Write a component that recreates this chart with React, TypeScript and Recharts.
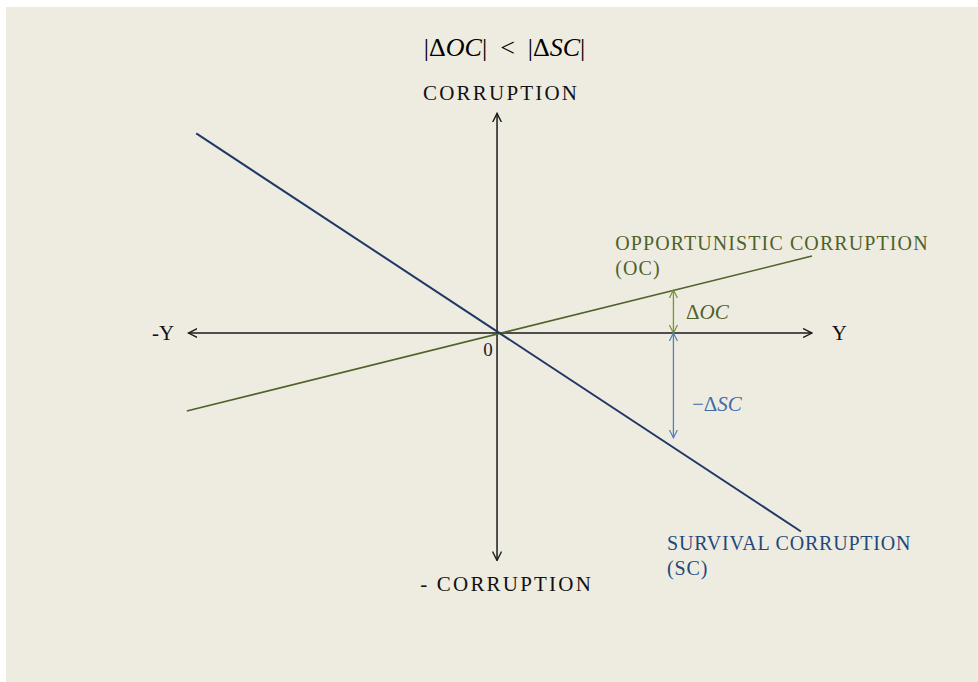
import { LineChart, Line, XAxis, YAxis, ReferenceDot } from "recharts";

// axis arrows and the two corruption lines, in chart units (origin = 0,0)
const horizontalAxis = [
  { x: -9.8, y: 0 },
  { x: 10, y: 0 },
];
const verticalAxis = [
  { x: 0, y: -10.2 },
  { x: 0, y: 9.85 },
];
const opportunistic = [
  { x: -9.85, y: -3.5 },
  { x: 10, y: 3.45 },
];
const survival = [
  { x: -9.55, y: 8.95 },
  { x: 9.65, y: -8.9 },
];
const deltaOC = [
  { x: 5.6, y: 0 },
  { x: 5.6, y: 1.93 },
];
const deltaSC = [
  { x: 5.6, y: 0 },
  { x: 5.6, y: -4.7 },
];

const ocLabel = ["OPPORTUNISTIC CORRUPTION", "(OC)"];
const scLabel = ["SURVIVAL CORRUPTION", "(SC)"];

const SERIF = "'Liberation Serif', 'Times New Roman', serif";
const BG = "#EEECE1";

// label renderer: centre of the ReferenceDot viewBox -> render callback
const at =
  (draw: (x: number, y: number) => any) =>
  (props: any) => {
    const vb = props.viewBox || {};
    const x = (vb.x ?? 0) + (vb.width ?? 0) / 2;
    const y = (vb.y ?? 0) + (vb.height ?? 0) / 2;
    return draw(x, y);
  };

const dot = {
  r: 0,
  fill: "none",
  stroke: "none",
  ifOverflow: "visible" as const,
};

export default function App() {
  return (
    <div
      style={{
        position: "absolute",
        left: 6,
        top: 7,
        width: 972,
        height: 675,
        background: BG,
      }}
    >
      <LineChart
        width={972}
        height={675}
        margin={{ top: 0, right: 0, bottom: 0, left: 0 }}
      >
        <defs>
          <marker
            id="arrBlack"
            viewBox="0 0 10 10"
            refX="9"
            refY="5"
            markerWidth="10"
            markerHeight="10"
            markerUnits="userSpaceOnUse"
            orient="auto-start-reverse"
          >
            <path d="M0,0.5 L9,5 L0,9.5" fill="none" stroke="#1a1a1a" strokeWidth="1.4" />
          </marker>
          <marker
            id="arrGreen"
            viewBox="0 0 10 10"
            refX="9"
            refY="5"
            markerWidth="9"
            markerHeight="11"
            markerUnits="userSpaceOnUse"
            orient="auto-start-reverse"
          >
            <path d="M0,0.5 L9,5 L0,9.5" fill="none" stroke="#77933C" strokeWidth="1.3" />
          </marker>
          <marker
            id="arrBlue"
            viewBox="0 0 10 10"
            refX="9"
            refY="5"
            markerWidth="9"
            markerHeight="11"
            markerUnits="userSpaceOnUse"
            orient="auto-start-reverse"
          >
            <path d="M0,0.5 L9,5 L0,9.5" fill="none" stroke="#4F81BD" strokeWidth="1.3" />
          </marker>
        </defs>

        <XAxis
          type="number"
          dataKey="x"
          hide
          domain={[-15.59, 15.27]}
          allowDataOverflow
        />
        <YAxis
          type="number"
          dataKey="y"
          hide
          domain={[-15.65, 14.62]}
          allowDataOverflow
        />

        <Line
          data={horizontalAxis}
          dataKey="y"
          type="linear"
          stroke="#1a1a1a"
          strokeWidth={1.5}
          dot={false}
          activeDot={false}
          markerStart="url(#arrBlack)"
          markerEnd="url(#arrBlack)"
          isAnimationActive={false}
        />
        <Line
          data={verticalAxis}
          dataKey="y"
          type="linear"
          stroke="#1a1a1a"
          strokeWidth={1.5}
          dot={false}
          activeDot={false}
          markerStart="url(#arrBlack)"
          markerEnd="url(#arrBlack)"
          isAnimationActive={false}
        />
        <Line
          data={opportunistic}
          dataKey="y"
          type="linear"
          stroke="#4F6228"
          strokeWidth={1.6}
          dot={false}
          activeDot={false}
          isAnimationActive={false}
        />
        <Line
          data={survival}
          dataKey="y"
          type="linear"
          stroke="#1F3864"
          strokeWidth={2}
          dot={false}
          activeDot={false}
          isAnimationActive={false}
        />
        <Line
          data={deltaOC}
          dataKey="y"
          type="linear"
          stroke="#77933C"
          strokeWidth={1.3}
          dot={false}
          activeDot={false}
          markerStart="url(#arrGreen)"
          markerEnd="url(#arrGreen)"
          isAnimationActive={false}
        />
        <Line
          data={deltaSC}
          dataKey="y"
          type="linear"
          stroke="#4F81BD"
          strokeWidth={1.3}
          dot={false}
          activeDot={false}
          markerStart="url(#arrBlue)"
          markerEnd="url(#arrBlue)"
          isAnimationActive={false}
        />

        {/* title */}
        <ReferenceDot
          x={0.24}
          y={12.83}
          {...dot}
          label={at((x, y) => (
            <text
              x={x}
              y={y}
              textAnchor="middle"
              dominantBaseline="central"
              fontFamily={SERIF}
              fontSize={26}
              fill="#000"
            >
              <tspan>|Δ</tspan>
              <tspan fontStyle="italic">OC</tspan>
              <tspan>|{"\u2002"}&lt;{"\u2002"}|Δ</tspan>
              <tspan fontStyle="italic">SC</tspan>
              <tspan>|</tspan>
            </text>
          ))}
        />

        <ReferenceDot
          x={0.13}
          y={10.76}
          {...dot}
          label={at((x, y) => (
            <text
              x={x}
              y={y}
              textAnchor="middle"
              dominantBaseline="central"
              fontFamily={SERIF}
              fontSize={21}
              letterSpacing={2.2}
              fill="#111"
            >
              CORRUPTION
            </text>
          ))}
        />
        <ReferenceDot
          x={-2.44}
          y={-11.25}
          {...dot}
          label={at((x, y) => (
            <text
              x={x}
              y={y}
              dominantBaseline="central"
              fontFamily={SERIF}
              fontSize={21}
              letterSpacing={2.2}
              fill="#111"
            >
              - CORRUPTION
            </text>
          ))}
        />
        <ReferenceDot
          x={-10.25}
          y={0}
          {...dot}
          label={at((x, y) => (
            <text
              x={x}
              y={y}
              textAnchor="end"
              dominantBaseline="central"
              fontFamily={SERIF}
              fontSize={21}
              fill="#111"
            >
              -Y
            </text>
          ))}
        />
        <ReferenceDot
          x={10.63}
          y={0}
          {...dot}
          label={at((x, y) => (
            <text
              x={x}
              y={y}
              dominantBaseline="central"
              fontFamily={SERIF}
              fontSize={21}
              fill="#111"
            >
              Y
            </text>
          ))}
        />
        <ReferenceDot
          x={-0.29}
          y={-0.76}
          {...dot}
          label={at((x, y) => (
            <text
              x={x}
              y={y}
              textAnchor="middle"
              dominantBaseline="central"
              fontFamily={SERIF}
              fontSize={19}
              fill="#222"
            >
              0
            </text>
          ))}
        />

        {/* line labels */}
        <ReferenceDot
          x={3.75}
          y={4.04}
          {...dot}
          label={at((x, y) => (
            <text
              x={x}
              y={y}
              dominantBaseline="central"
              fontFamily={SERIF}
              fontSize={20}
              letterSpacing={1.1}
              fill="#4F6228"
            >
              <tspan x={x}>{ocLabel[0]}</tspan>
              <tspan x={x} dy={25}>
                {ocLabel[1]}
              </tspan>
            </text>
          ))}
        />
        <ReferenceDot
          x={5.4}
          y={-9.42}
          {...dot}
          label={at((x, y) => (
            <text
              x={x}
              y={y}
              dominantBaseline="central"
              fontFamily={SERIF}
              fontSize={20}
              letterSpacing={0.8}
              fill="#1F497D"
            >
              <tspan x={x}>{scLabel[0]}</tspan>
              <tspan x={x} dy={25}>
                {scLabel[1]}
              </tspan>
            </text>
          ))}
        />
        <ReferenceDot
          x={6.0}
          y={0.94}
          {...dot}
          label={at((x, y) => (
            <text
              x={x}
              y={y}
              dominantBaseline="central"
              fontFamily={SERIF}
              fontSize={21}
              fill="#4F6228"
            >
              Δ<tspan fontStyle="italic">OC</tspan>
            </text>
          ))}
        />
        <ReferenceDot
          x={6.19}
          y={-3.18}
          {...dot}
          label={at((x, y) => (
            <text
              x={x}
              y={y}
              dominantBaseline="central"
              fontFamily={SERIF}
              fontSize={21}
              fill="#3F6DAA"
            >
              −Δ<tspan fontStyle="italic">SC</tspan>
            </text>
          ))}
        />
      </LineChart>
    </div>
  );
}
